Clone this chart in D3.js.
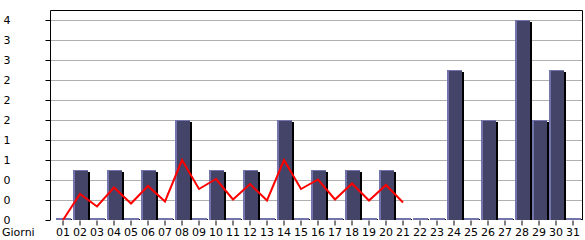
<!DOCTYPE html>
<html>
<head>
<meta charset="utf-8">
<script src="https://cdn.jsdelivr.net/npm/d3@7/dist/d3.min.js"></script>
<style>
  body { margin: 0; background: #fff; }
  svg text { font-family: "DejaVu Sans", sans-serif; font-size: 11px; fill: #000; }
</style>
</head>
<body>
<div id="chart"></div>
<script>
// giorni del mese
var days = ["01","02","03","04","05","06","07","08","09","10","11","12","13","14","15","16",
            "17","18","19","20","21","22","23","24","25","26","27","28","29","30","31"];
// visite per giorno (barre)
var visits = [0,1,0,1,0,1,0,2,0,1,0,1,0,2,0,1,0,1,0,1,0,0,0,3,0,2,0,4,2,3,0];
// media (linea rossa), solo fino al giorno 21
var trend = [0,0.52,0.27,0.65,0.33,0.68,0.37,1.2,0.62,0.82,0.41,0.72,0.39,1.2,0.62,0.81,0.41,0.73,0.39,0.7,0.35];
var yTicks = [0,0.4,0.8,1.2,1.6,2,2.4,2.8,3.2,3.6,4];
var xTitle = "Giorni";

var W = 585, H = 240;
var svg = d3.select("#chart").append("svg").attr("width", W).attr("height", H);

var x = d3.scaleBand().domain(days).range([54.5, 581.5]).padding(0);
var y = d3.scaleLinear().domain([0, 4]).range([220, 20]);
var bw = 15;

// griglia
svg.append("g").selectAll("line").data(yTicks.slice(1)).enter().append("line")
    .attr("x1", 51).attr("x2", 582)
    .attr("y1", function (d) { return Math.round(y(d)) + 0.5; })
    .attr("y2", function (d) { return Math.round(y(d)) + 0.5; })
    .attr("stroke", "#b0b0b0").attr("stroke-width", 1);

// cornice
svg.append("path").attr("d", "M50.5,220V10.5H582.5V220")
    .attr("fill", "none").attr("stroke", "#000").attr("stroke-width", 1);

// asse y
var yAxis = d3.axisLeft(y).tickValues(yTicks).tickSize(5).tickFormat(function (d) { return Math.floor(d + 1e-9); });
var gy = svg.append("g").attr("transform", "translate(50.5,0)").call(yAxis);
gy.select(".domain").remove();
gy.selectAll(".tick line").attr("stroke", "#000");
gy.selectAll(".tick text").attr("x", -47).attr("text-anchor", "start").attr("dy", "0.35em")
    .style("font-size", "11px").style("font-family", "DejaVu Sans, sans-serif");

// barre
var bars = svg.append("g").selectAll("g").data(visits).enter().append("g");
bars.each(function (v, i) {
    var g = d3.select(this), cx = x(days[i]) + x.bandwidth() / 2, left = Math.round(cx - bw / 2);
    if (v === 0) {
        g.append("rect").attr("x", left).attr("y", 218).attr("width", bw).attr("height", 2).attr("fill", "#7474ac");
        g.append("rect").attr("x", left + bw).attr("y", 219).attr("width", 1).attr("height", 1).attr("fill", "#000");
        return;
    }
    var top = Math.round(y(v));
    g.append("rect").attr("x", left + bw).attr("y", top + 2).attr("width", 2).attr("height", 220 - top - 2).attr("fill", "#000");
    g.append("rect").attr("x", left).attr("y", top).attr("width", bw).attr("height", 220 - top).attr("fill", "#444468");
    g.append("rect").attr("x", left).attr("y", top).attr("width", 2).attr("height", 220 - top).attr("fill", "#7474ac");
    g.append("rect").attr("x", left).attr("y", top).attr("width", bw).attr("height", 1).attr("fill", "#7474ac");
});

// linea media
var line = d3.line()
    .x(function (d, i) { return x(days[i]) + x.bandwidth() / 2; })
    .y(function (d) { return y(d); });
svg.append("path").datum(trend).attr("d", line)
    .attr("fill", "none").attr("stroke", "#ff0000").attr("stroke-width", 2);

// asse x
var xAxis = d3.axisBottom(x).tickSize(5).tickPadding(3);
var gx = svg.append("g").attr("transform", "translate(0,220.5)").call(xAxis);
gx.select(".domain").remove();
gx.selectAll(".tick line").attr("stroke", "#000");
gx.selectAll(".tick text").style("font-size", "11px").style("font-family", "DejaVu Sans, sans-serif");

svg.append("text").attr("x", 2).attr("y", 236).text(xTitle);
</script>
</body>
</html>
